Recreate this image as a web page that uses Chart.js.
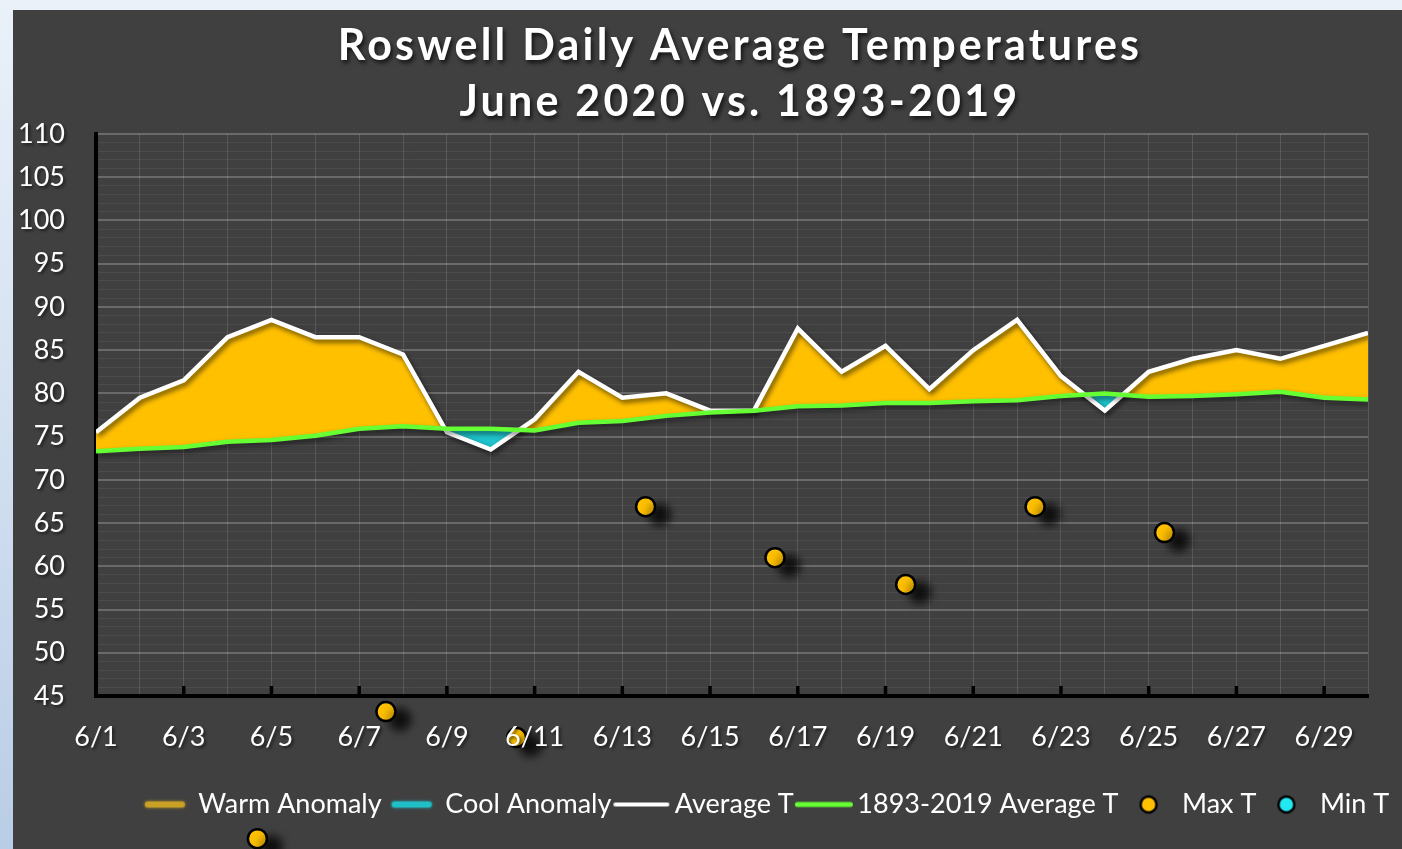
<!DOCTYPE html>
<html>
<head>
<meta charset="utf-8">
<title>Roswell Daily Average Temperatures</title>
<script src="https://cdn.jsdelivr.net/npm/chart.js@4.4.0/dist/chart.umd.min.js"></script>
<style>
  html, body {
    margin: 0;
    padding: 0;
    width: 1402px;
    height: 849px;
    overflow: hidden;
    background: linear-gradient(180deg, #eaf1f9 0%, #d6e2f1 45%, #b9cde6 100%);
  }
  #panel {
    position: absolute;
    left: 13px;
    top: 10px;
    width: 1389px;
    height: 839px;
    background: #404040;
    overflow: hidden;
  }
  #chart { display: block; }
</style>
</head>
<body>
<div id="panel"><canvas id="chart" width="1508" height="839"></canvas></div>
<script>
const dayLabels = ['6/1', '6/2', '6/3', '6/4', '6/5', '6/6', '6/7', '6/8', '6/9', '6/10',
    '6/11', '6/12', '6/13', '6/14', '6/15', '6/16', '6/17', '6/18', '6/19', '6/20',
    '6/21', '6/22', '6/23', '6/24', '6/25', '6/26', '6/27', '6/28', '6/29', '6/30'];

// June 2020 daily average
const avgT = [75.5, 79.5, 81.5, 86.5, 88.5, 86.5, 86.5, 84.5, 75.5, 73.5,
    77, 82.5, 79.5, 80, 78, 78, 87.5, 82.5, 85.5, 80.5,
    85, 88.5, 82, 78, 82.5, 84, 85, 84, 85.5, 87];

// 1893-2019 normal
const normalT = [73.3, 73.6, 73.8, 74.4, 74.6, 75.1, 75.9, 76.2, 75.9, 75.9,
    75.7, 76.6, 76.8, 77.4, 77.8, 78, 78.5, 78.6, 78.9, 78.9,
    79.1, 79.2, 79.7, 80, 79.6, 79.7, 79.9, 80.2, 79.5, 79.3];

// Max T markers (day index, value) as they sit in the picture
const maxTX = [3.68, 6.61, 9.59, 12.53, 15.48, 18.46, 21.41, 24.36];
const maxTY = [28.5, 43.2, 40.2, 66.9, 61.0, 57.9, 66.9, 63.9];
const minTX = [];
const minTY = [];

const titleLines = ['Roswell Daily Average Temperatures', 'June 2020 vs. 1893-2019'];
const seriesNames = ['Warm Anomaly', 'Cool Anomaly', 'Average T', '1893-2019 Average T', 'Max T', 'Min T'];

const GOLD = '#FFC000';
const CYAN = '#1FC3CB';
const GREEN = '#66FF33';
const FONT = 'Lato, "Open Sans", sans-serif';

function xy(values) {
    return values.map((v, i) => ({ x: i, y: v }));
}

function pairs(xs, ys) {
    return xs.map((x, i) => ({ x: x, y: ys[i] }));
}

function lineIcon(color, w, lw, glow) {
    const c = document.createElement('canvas');
    c.width = w + 8;
    c.height = 14;
    const g = c.getContext('2d');
    if (glow) {
        g.shadowColor = color;
        g.shadowBlur = 3;
    }
    g.strokeStyle = color;
    g.lineWidth = lw;
    g.lineCap = 'round';
    g.beginPath();
    g.moveTo(4 + lw / 2, 7);
    g.lineTo(4 + w - lw / 2, 7);
    g.stroke();
    return c;
}

function dotIcon(color) {
    const c = document.createElement('canvas');
    c.width = 22;
    c.height = 22;
    const g = c.getContext('2d');
    g.fillStyle = color;
    g.strokeStyle = '#000';
    g.lineWidth = 2.5;
    g.beginPath();
    g.arc(11, 11, 8, 0, Math.PI * 2);
    g.fill();
    g.stroke();
    return c;
}

const legendIcons = [
    lineIcon('#C9A125', 40, 6, true),
    lineIcon('#20BFC7', 40, 6, true),
    lineIcon('#ffffff', 56, 4, false),
    lineIcon(GREEN, 58, 5, false),
    dotIcon(GOLD),
    dotIcon('#22E8F2')
];

function setShadow(ctx, s) {
    ctx.shadowOffsetX = s[0];
    ctx.shadowOffsetY = s[1];
    ctx.shadowBlur = s[2];
    ctx.shadowColor = s[3];
}

const wideArea = { left: -10000, top: -10000, right: 10000, bottom: 10000 };

const decoPlugin = {
    id: 'deco',
    beforeDatasetDraw(chart, args) {
        const s = chart.data.datasets[args.index].shadow;
        chart.ctx.save();
        if (s) setShadow(chart.ctx, s);
    },
    afterDatasetDraw(chart, args) {
        // the library skips points outside the plot area, these sit below it
        if (chart.data.datasets[args.index].clip === false) {
            const area = chart.chartArea;
            args.meta.data.forEach(el => {
                if (el.y > area.bottom || el.y < area.top) el.draw(chart.ctx, wideArea);
            });
        }
        chart.ctx.restore();
    },
    afterDatasetsDraw(chart) {
        // soft shadow for the tick labels drawn after this point
        chart.ctx.save();
        setShadow(chart.ctx, [2, 2, 3, 'rgba(0,0,0,0.55)']);
    },
    afterDraw(chart) {
        const ctx = chart.ctx;
        ctx.restore();
        const area = chart.chartArea;
        const xs = chart.scales.x;

        // inward tick marks every second day
        ctx.save();
        ctx.strokeStyle = '#000';
        ctx.lineWidth = 3.5;
        for (let i = 0; i < dayLabels.length; i += 2) {
            const px = xs.getPixelForValue(i);
            ctx.beginPath();
            ctx.moveTo(px, area.bottom);
            ctx.lineTo(px, area.bottom - 10);
            ctx.stroke();
        }
        ctx.restore();

        // two line title
        ctx.save();
        ctx.font = 'bold 43px ' + FONT;
        ctx.fillStyle = '#ffffff';
        ctx.textAlign = 'center';
        ctx.textBaseline = 'alphabetic';
        ctx.letterSpacing = '3.2px';
        setShadow(ctx, [2, 3, 4, 'rgba(0,0,0,0.7)']);
        const cx = (area.left + area.right) / 2 + 8;
        ctx.fillText(titleLines[0], cx, 50);
        ctx.fillText(titleLines[1], cx, 106);
        ctx.restore();
    }
};

new Chart(document.getElementById('chart'), {
    type: 'line',
    data: {
        datasets: [
            {
                label: seriesNames[0],
                data: xy(avgT),
                borderColor: 'transparent',
                borderWidth: 0,
                pointRadius: 0,
                fill: { target: 3, above: GOLD, below: 'transparent' },
                order: 5
            },
            {
                label: seriesNames[1],
                data: xy(avgT),
                borderColor: 'transparent',
                borderWidth: 0,
                pointRadius: 0,
                fill: { target: 3, above: 'transparent', below: CYAN },
                order: 4
            },
            {
                label: seriesNames[2],
                data: xy(avgT),
                borderColor: '#ffffff',
                borderWidth: 4.5,
                borderJoinStyle: 'miter',
                pointRadius: 0,
                fill: false,
                order: 3,
                shadow: [2, 3, 5, 'rgba(0,0,0,0.6)']
            },
            {
                label: seriesNames[3],
                data: xy(normalT),
                borderColor: GREEN,
                borderWidth: 4.5,
                pointRadius: 0,
                fill: false,
                order: 2,
                shadow: [2, 3, 5, 'rgba(0,0,0,0.5)']
            },
            {
                label: seriesNames[4],
                data: pairs(maxTX, maxTY),
                showLine: false,
                pointRadius: 9.5,
                backgroundColor: GOLD,
                borderColor: '#000',
                borderWidth: 2.5,
                clip: false,
                order: 1,
                shadow: [14, 8, 9, 'rgba(0,0,0,0.8)']
            },
            {
                label: seriesNames[5],
                data: pairs(minTX, minTY),
                showLine: false,
                pointRadius: 9.5,
                backgroundColor: '#22E8F2',
                borderColor: '#000',
                borderWidth: 2.5,
                clip: false,
                order: 0
            }
        ]
    },
    options: {
        responsive: false,
        animation: false,
        layout: { padding: { top: 124, left: 0, right: 0, bottom: 21 } },
        scales: {
            x: {
                type: 'linear',
                min: 0,
                max: 29,
                afterFit: s => { s.height = 85; },
                grid: { color: 'rgba(255,255,255,0.13)', drawTicks: false },
                border: { color: '#000', width: 4 },
                ticks: {
                    stepSize: 1,
                    autoSkip: false,
                    maxTicksLimit: 100,
                    maxRotation: 0,
                    padding: 25,
                    color: '#ffffff',
                    font: { family: FONT, size: 27 },
                    z: 1,
                    callback: v => (v % 2 === 0 ? dayLabels[v] : '')
                }
            },
            y: {
                min: 45,
                max: 110,
                afterFit: s => { s.width = 83; },
                grid: {
                    color: c => (c.tick && c.tick.value % 5 === 0 ? 'rgba(255,255,255,0.22)' : 'rgba(255,255,255,0.06)'),
                    lineWidth: c => (c.tick && c.tick.value % 5 === 0 ? 2 : 1),
                    drawTicks: false
                },
                border: { color: '#000', width: 4 },
                ticks: {
                    stepSize: 1,
                    autoSkip: false,
                    maxTicksLimit: 100,
                    padding: 31,
                    color: '#ffffff',
                    font: { family: FONT, size: 27 },
                    z: 1,
                    callback: v => (v % 5 === 0 ? v : '')
                }
            },
            yR: {
                position: 'right',
                afterFit: s => { s.width = 153; },
                grid: { display: false },
                border: { display: false },
                ticks: { display: false }
            }
        },
        plugins: {
            title: { display: false },
            tooltip: { enabled: false },
            legend: {
                position: 'bottom',
                labels: {
                    color: '#ffffff',
                    font: { family: FONT, size: 27 },
                    usePointStyle: true,
                    pointStyleWidth: 40,
                    padding: 10,
                    sort: (a, b) => a.datasetIndex - b.datasetIndex,
                    generateLabels: chart =>
                        Chart.defaults.plugins.legend.labels.generateLabels(chart)
                            .map(item => Object.assign(item, { pointStyle: legendIcons[item.datasetIndex] }))
                }
            }
        }
    },
    plugins: [decoPlugin]
});
</script>
</body>
</html>
